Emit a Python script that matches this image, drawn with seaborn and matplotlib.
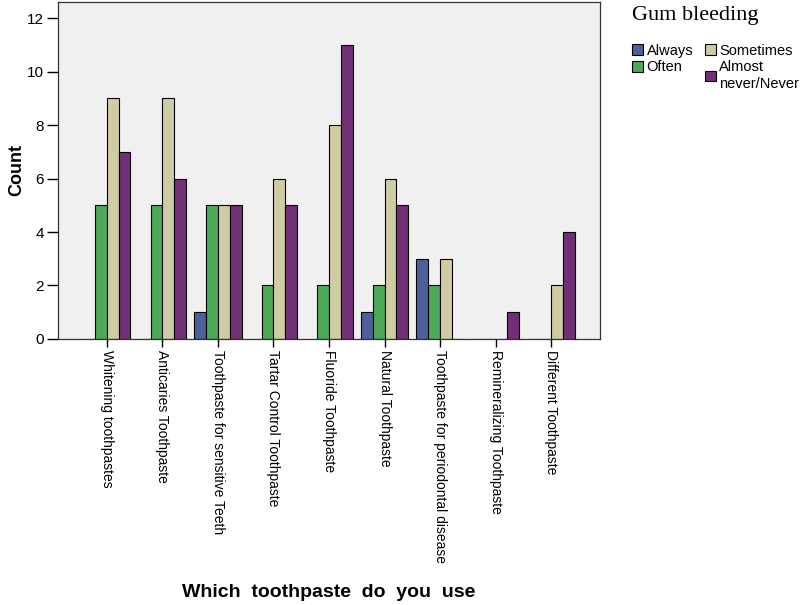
import pandas as pd
import seaborn as sns
import matplotlib.pyplot as plt

# Data
toothpastes = ['Whitening toothpastes', 'Anticaries Toothpaste', 'Toothpaste for sensitive Teeth',
               'Tartar Control Toothpaste', 'Fluoride Toothpaste', 'Natural Toothpaste',
               'Toothpaste for periodontal disease', 'Remineralizing Toothpaste', 'Different Toothpaste']
gum_levels = ['Always', 'Often', 'Sometimes', 'Almost never/Never']
always = [0, 0, 1, 0, 0, 1, 3, 0, 0]
often = [5, 5, 5, 2, 2, 2, 2, 0, 0]
sometimes = [9, 9, 5, 6, 8, 6, 3, 0, 2]
almost_never = [7, 6, 5, 5, 11, 5, 0, 1, 4]
y_ticks = [0, 2, 4, 6, 8, 10, 12]

colors = ['#3F5BA9', '#3DB84B', '#D6D19B', '#7B2580']

# Long format for seaborn
df = pd.DataFrame({'toothpaste': toothpastes * 4,
                   'gum': [g for g in gum_levels for _ in toothpastes],
                   'count': always + often + sometimes + almost_never})

sns.set_style('white')
plt.rcParams['font.family'] = ['Liberation Sans', 'DejaVu Sans']
plt.rcParams['text.color'] = 'black'
plt.rcParams['axes.labelcolor'] = 'black'
plt.rcParams['xtick.color'] = 'black'
plt.rcParams['ytick.color'] = 'black'

fig = plt.figure(figsize=(8, 6.05), dpi=100)
ax = fig.add_axes([0.0725, 0.4397, 0.6775, 0.557])
ax.set_facecolor('#F0F0F0')

sns.barplot(data=df, x='toothpaste', y='count', hue='gum', order=toothpastes, hue_order=gum_levels,
            palette=colors, width=0.85, gap=0, edgecolor='black', linewidth=0.8,
            errorbar=None, ax=ax)

ax.set_xlim(-0.88, 8.88)
ax.set_ylim(0, 12.6)
ax.set_yticks(y_ticks)
ax.set_yticklabels([str(t) for t in y_ticks], fontsize=11)
ax.set_xticks(range(len(toothpastes)))
ax.set_xticklabels(toothpastes, rotation=-90, ha='center', va='top', fontsize=10)
ax.tick_params(axis='y', which='major', direction='out', length=8, width=1, colors='black', left=True, pad=2)
ax.tick_params(axis='x', which='major', direction='out', length=6, width=1, colors='black', bottom=True, pad=2)
for s in ax.spines.values():
    s.set_color('#333333')
    s.set_linewidth(0.9)

ax.set_ylabel('Count', fontsize=13, fontweight='bold')
ax.yaxis.set_label_coords(-0.06, 0.5)
ax.set_xlabel('Which  toothpaste  do  you  use', fontsize=14, fontweight='bold')
ax.xaxis.set_label_coords(0.5, -0.728)

# Legend outside on the right, title drawn separately
fig.text(0.79, 0.975, 'Gum bleeding', family='Liberation Serif', fontsize=16, va='center', ha='left')
handles, _ = ax.get_legend_handles_labels()
labels = ['Always', 'Often', 'Sometimes', 'Almost\nnever/Never']
leg = ax.legend(handles, labels, ncol=2, frameon=False,
                loc='upper left', bbox_to_anchor=(0.79, 0.928), bbox_transform=fig.transFigure,
                fontsize=10.5, handlelength=0.75, handleheight=0.75, handletextpad=0.25,
                columnspacing=0.8, labelspacing=0.2, borderaxespad=0, borderpad=0)

fig.savefig('out.png', dpi=100)
